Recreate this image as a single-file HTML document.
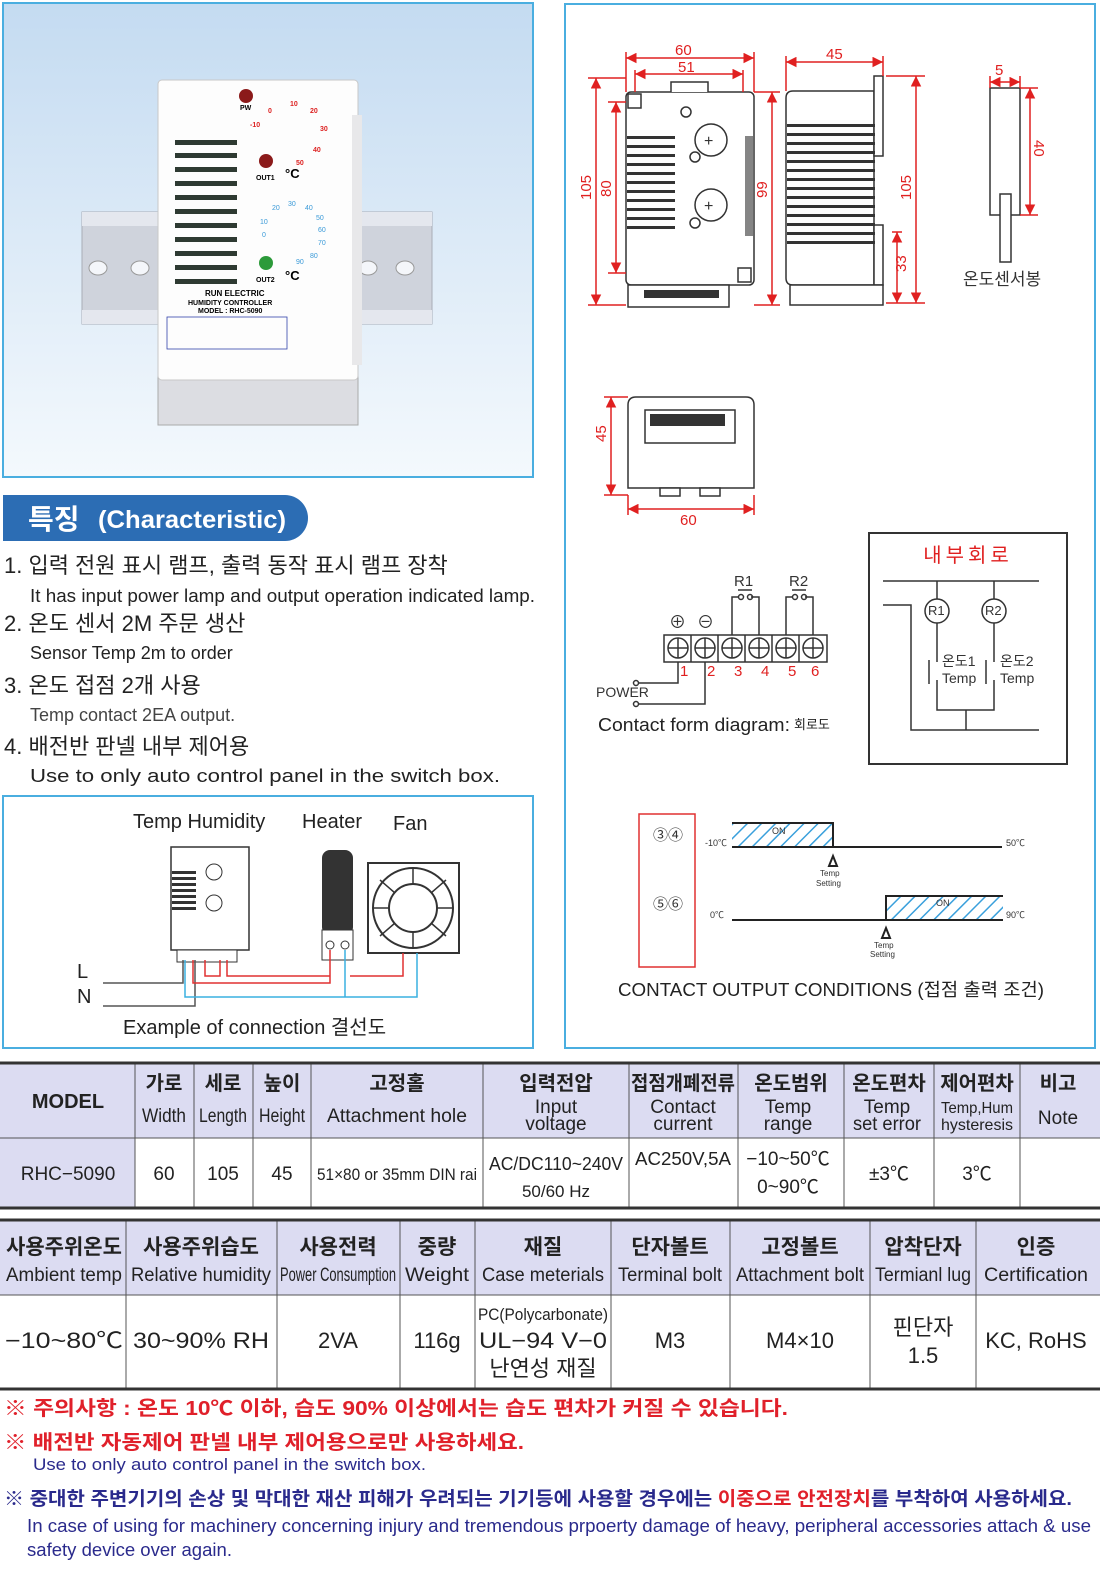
<!DOCTYPE html>
<html><head><meta charset="utf-8"><style>
html,body{margin:0;padding:0;background:#fff}
svg{display:block}
text{font-family:"Liberation Sans","Noto Sans CJK KR",sans-serif}
</style></head><body>
<svg width="1100" height="1571" viewBox="0 0 1100 1571" xmlns="http://www.w3.org/2000/svg">
<defs>
<linearGradient id="bg" x1="0" y1="0" x2="0" y2="1"><stop offset="0" stop-color="#c4dbf1"/><stop offset="1" stop-color="#f4f9fd"/></linearGradient>
<pattern id="hatch" width="10" height="10" patternUnits="userSpaceOnUse" patternTransform="rotate(45)"><rect width="10" height="10" fill="#fff"/><line x1="0" y1="0" x2="0" y2="10" stroke="#3aa0dc" stroke-width="3"/></pattern>
<marker id="a" viewBox="0 0 10 10" refX="10" refY="5" markerWidth="7" markerHeight="7" orient="auto-start-reverse"><path d="M0 0 L10 5 L0 10 Z" fill="#e02020"/></marker>
</defs>

<!-- Product photo -->
<rect x="3" y="3" width="530" height="474" fill="url(#bg)" stroke="#4aaee0" stroke-width="2"/>
<rect x="82" y="212" width="350" height="112" fill="#cfd3dc" stroke="#a8acb6"/>
<rect x="82" y="212" width="350" height="14" fill="#e4e7ee"/>
<rect x="82" y="310" width="350" height="14" fill="#e4e7ee"/>
<ellipse cx="98" cy="268" rx="9" ry="7" fill="#f4f6fa" stroke="#999"/><ellipse cx="140" cy="268" rx="9" ry="7" fill="#f4f6fa" stroke="#999"/>
<ellipse cx="368" cy="268" rx="9" ry="7" fill="#f4f6fa" stroke="#999"/><ellipse cx="405" cy="268" rx="9" ry="7" fill="#f4f6fa" stroke="#999"/>
<rect x="158" y="370" width="200" height="55" fill="#dcdde2" stroke="#aaa"/>
<rect x="158" y="80" width="200" height="300" rx="4" fill="#fdfdfd" stroke="#c8c8c8"/>
<rect x="352" y="115" width="10" height="250" fill="#e8e8ea"/>
<g fill="#2e3a32">
<rect x="175" y="140" width="62" height="5"/><rect x="175" y="153" width="62" height="5"/><rect x="175" y="167" width="62" height="5"/><rect x="175" y="181" width="62" height="5"/><rect x="175" y="195" width="62" height="5"/><rect x="175" y="209" width="62" height="5"/><rect x="175" y="223" width="62" height="5"/><rect x="175" y="237" width="62" height="5"/><rect x="175" y="251" width="62" height="5"/><rect x="175" y="265" width="62" height="5"/><rect x="175" y="279" width="62" height="5"/>
</g>
<circle cx="246" cy="96" r="7" fill="#8b1a1a"/><text x="240" y="110" font-size="7" font-weight="bold">PW</text>
<circle cx="266" cy="161" r="7" fill="#8b1a1a"/><text x="256" y="180" font-size="7" font-weight="bold">OUT1</text>
<circle cx="266" cy="263" r="7" fill="#2c9a3a"/><text x="256" y="282" font-size="7" font-weight="bold">OUT2</text>
<text x="285" y="178" font-size="13" font-weight="bold">°C</text><text x="285" y="280" font-size="13" font-weight="bold">°C</text>
<g font-size="7" fill="#d22" font-weight="bold"><text x="268" y="113">0</text><text x="290" y="106">10</text><text x="310" y="113">20</text><text x="320" y="131">30</text><text x="313" y="152">40</text><text x="296" y="165">50</text><text x="250" y="127">-10</text></g>
<g font-size="7" fill="#3a9ad8"><text x="262" y="237">0</text><text x="260" y="224">10</text><text x="272" y="210">20</text><text x="288" y="206">30</text><text x="305" y="210">40</text><text x="316" y="220">50</text><text x="318" y="232">60</text><text x="318" y="245">70</text><text x="310" y="258">80</text><text x="296" y="264">90</text></g>
<text x="205" y="296" font-size="8" font-weight="bold">RUN ELECTRIC</text>
<text x="188" y="305" font-size="7" font-weight="bold">HUMIDITY CONTROLLER</text>
<text x="198" y="313" font-size="7" font-weight="bold">MODEL : RHC-5090</text>
<rect x="167" y="317" width="120" height="32" fill="none" stroke="#3344aa" stroke-width="0.8"/>

<!-- Characteristic -->
<path d="M3 495 H285 A23 23 0 0 1 285 541 H3 Z" fill="#2c6db4"/>
<text x="28" y="529" font-size="28" font-weight="bold" fill="#fff">특징</text>
<text x="98" y="528" font-size="25" fill="#fff" font-weight="bold" textLength="188" lengthAdjust="spacingAndGlyphs">(Characteristic)</text>
<g font-size="22" fill="#222">
<text x="4" y="573">1. 입력 전원 표시 램프, 출력 동작 표시 램프 장착</text>
<text x="4" y="631">2. 온도 센서 2M 주문 생산</text>
<text x="4" y="693">3. 온도 접점 2개 사용</text>
<text x="4" y="754">4. 배전반 판넬 내부 제어용</text>
</g>
<g font-size="18" fill="#222">
<text x="30" y="602" textLength="505" lengthAdjust="spacingAndGlyphs">It has input power lamp and output operation indicated lamp.</text>
<text x="30" y="659">Sensor Temp 2m to order</text>
<text x="30" y="721" fill="#444">Temp contact 2EA output.</text>
<text x="30" y="782" textLength="470" lengthAdjust="spacingAndGlyphs">Use to only auto control panel in the switch box.</text>
</g>

<!-- Connection -->
<rect x="3" y="796" width="530" height="252" fill="#fff" stroke="#4aaee0" stroke-width="2"/>
<g font-size="20" fill="#222"><text x="133" y="828">Temp Humidity</text><text x="302" y="828">Heater</text><text x="393" y="830">Fan</text>
<text x="123" y="1034">Example of connection 결선도</text><text x="77" y="978">L</text><text x="77" y="1003">N</text></g>
<rect x="171" y="847" width="78" height="103" fill="#fff" stroke="#333" stroke-width="1.5"/>
<g fill="#333"><rect x="172" y="871" width="24" height="3"/><rect x="172" y="877" width="24" height="3"/><rect x="172" y="883" width="24" height="3"/><rect x="172" y="889" width="24" height="3"/><rect x="172" y="895" width="24" height="3"/><rect x="172" y="901" width="24" height="3"/><rect x="172" y="907" width="24" height="3"/></g>
<circle cx="214" cy="872" r="8" fill="none" stroke="#333"/><circle cx="214" cy="903" r="8" fill="none" stroke="#333"/>
<rect x="177" y="950" width="60" height="12" fill="#fff" stroke="#333"/>
<rect x="322" y="850" width="31" height="85" rx="8" fill="#333"/><rect x="322" y="930" width="31" height="30" fill="#fff" stroke="#333"/>
<circle cx="330" cy="945" r="4" fill="none" stroke="#333"/><circle cx="345" cy="945" r="4" fill="none" stroke="#333"/>
<rect x="368" y="863" width="91" height="90" fill="#fff" stroke="#333" stroke-width="2"/>
<circle cx="413" cy="908" r="40" fill="none" stroke="#333" stroke-width="2"/><circle cx="413" cy="908" r="24" fill="none" stroke="#333" stroke-width="2"/>
<g stroke="#333" stroke-width="1.5"><path d="M380 880 L395 893 M446 880 L431 893 M380 936 L395 923 M446 936 L431 923 M413 868 V884 M413 932 V948 M373 908 H389 M437 908 H453"/></g>
<g fill="none" stroke-width="1.5">
<path d="M103 983 H183 V960" stroke="#555"/><path d="M103 1006 H195 V960" stroke="#555"/>
<path d="M185 960 V997 H417 V953" stroke="#3ab0e0"/><path d="M345 950 V997" stroke="#3ab0e0"/>
<path d="M193 960 V983 H330 V950" stroke="#e03030"/><path d="M205 960 V976 H220 V960" stroke="#e03030"/>
<path d="M227 960 V976 H330" stroke="#e03030"/><path d="M350 976 H403 V953" stroke="#e03030"/>
</g>

<!-- Right panel -->
<rect x="565" y="4" width="530" height="1044" fill="#fff" stroke="#4aaee0" stroke-width="2"/>
<g stroke="#333" stroke-width="1.5" fill="#fff">
<rect x="626" y="92" width="128" height="193" rx="5"/>
<path d="M671 92 V82 H708 V92" />
<rect x="628" y="285" width="101" height="22"/>
<path d="M786 98 Q786 91 793 91 H874 V285 H793 Q786 285 786 278 Z"/>
<rect x="874" y="76" width="9" height="80"/><rect x="874" y="225" width="9" height="60"/>
<rect x="790" y="285" width="93" height="20"/>
<rect x="990" y="88" width="30" height="127"/><rect x="1000" y="194" width="11" height="68"/>
<path d="M628 488 V405 Q628 397 636 397 H746 Q754 397 754 405 V488 Z"/>
<rect x="645" y="410" width="90" height="33"/>
<rect x="660" y="488" width="20" height="8"/><rect x="700" y="488" width="20" height="8"/>
</g>
<g fill="#333">
<rect x="627" y="136" width="48" height="3"/><rect x="627" y="145" width="48" height="3"/><rect x="627" y="154" width="48" height="3"/><rect x="627" y="163" width="48" height="3"/><rect x="627" y="172" width="48" height="3"/><rect x="627" y="181" width="48" height="3"/><rect x="627" y="190" width="48" height="3"/><rect x="627" y="199" width="48" height="3"/><rect x="627" y="208" width="48" height="3"/><rect x="627" y="217" width="48" height="3"/><rect x="627" y="226" width="48" height="3"/>
<rect x="787" y="124" width="88" height="3"/><rect x="787" y="133" width="88" height="3"/><rect x="787" y="142" width="88" height="3"/><rect x="787" y="151" width="88" height="3"/><rect x="787" y="160" width="88" height="3"/><rect x="787" y="169" width="88" height="3"/><rect x="787" y="178" width="88" height="3"/><rect x="787" y="187" width="88" height="3"/><rect x="787" y="196" width="88" height="3"/><rect x="787" y="205" width="88" height="3"/><rect x="787" y="214" width="88" height="3"/><rect x="787" y="223" width="88" height="3"/><rect x="787" y="232" width="88" height="3"/><rect x="787" y="241" width="88" height="3"/>
<rect x="745" y="136" width="8" height="100" opacity="0.6"/>
<rect x="644" y="290" width="75" height="8"/><rect x="650" y="414" width="75" height="12"/>
</g>
<g fill="none" stroke="#333" stroke-width="1.5"><circle cx="711" cy="140" r="16"/><circle cx="711" cy="205" r="16"/><circle cx="686" cy="112" r="5"/><circle cx="695" cy="157" r="5"/><circle cx="695" cy="223" r="5"/><rect x="628" y="94" width="13" height="14"/><rect x="738" y="268" width="13" height="14"/></g>
<g font-size="16" fill="#333"><text x="704" y="146">+</text><text x="704" y="211">+</text></g>
<!-- dims -->
<g stroke="#e02020" stroke-width="1.5" fill="none">
<path d="M626 52 V92 M754 52 V92 M635 70 V92 M743 70 V92 M588 78 H626 M588 305 H626 M608 102 H626 M608 273 H626 M754 92 H780 M754 305 H780 M786 56 V91 M883 56 V76 M886 76 H925 M886 303 H925 M892 232 H902 M990 76 V88 M1020 76 V88 M1020 88 H1038 M1020 215 H1038 M604 397 H628 M604 495 H628 M628 495 V515 M754 495 V515"/>
</g>
<g stroke="#e02020" stroke-width="1.5" fill="none" marker-start="url(#a)" marker-end="url(#a)">
<line x1="626" y1="58" x2="754" y2="58"/><line x1="635" y1="74" x2="743" y2="74"/>
<line x1="596" y1="78" x2="596" y2="305"/><line x1="616" y1="102" x2="616" y2="273"/><line x1="772" y1="92" x2="772" y2="305"/>
<line x1="786" y1="62" x2="883" y2="62"/><line x1="916" y1="76" x2="916" y2="303"/><line x1="897" y1="232" x2="897" y2="303"/>
<line x1="990" y1="82" x2="1020" y2="82"/><line x1="1030" y1="88" x2="1030" y2="215"/>
<line x1="611" y1="397" x2="611" y2="495"/><line x1="628" y1="509" x2="754" y2="509"/>
</g>
<g font-size="15" fill="#e02020">
<text x="675" y="55">60</text><text x="678" y="72">51</text><text x="826" y="59">45</text><text x="995" y="75">5</text><text x="680" y="525">60</text>
<text transform="translate(591,200) rotate(-90)">105</text><text transform="translate(611,197) rotate(-90)">80</text>
<text transform="translate(767,198) rotate(-90)">99</text><text transform="translate(911,200) rotate(-90)">105</text>
<text transform="translate(906,272) rotate(-90)">33</text><text transform="translate(1034,140) rotate(90)">40</text>
<text transform="translate(606,442) rotate(-90)">45</text>
</g>
<text x="963" y="285" font-size="17" fill="#333">온도센서봉</text>

<!-- contact form -->
<g stroke="#333" stroke-width="1.5" fill="none">
<rect x="664" y="635" width="163" height="27"/>
<circle cx="678" cy="648" r="10"/><circle cx="705" cy="648" r="10"/><circle cx="732" cy="648" r="10"/><circle cx="759" cy="648" r="10"/><circle cx="786" cy="648" r="10"/><circle cx="813" cy="648" r="10"/>
<path d="M668 648 H688 M678 638 V658 M695 648 H715 M705 638 V658 M722 648 H742 M732 638 V658 M749 648 H769 M759 638 V658 M776 648 H796 M786 638 V658 M803 648 H823 M813 638 V658 M691 635 V662 M718 635 V662 M745 635 V662 M772 635 V662 M799 635 V662"/>
<path d="M732 635 V597 H739 M751 597 H759 V635 M786 635 V597 H793 M805 597 H813 V635 M738 590 H752 M792 590 H806"/>
<path d="M678 662 V683 H638 M705 662 V704 H638"/>
<circle cx="741" cy="597" r="2.5"/><circle cx="750" cy="597" r="2.5"/><circle cx="795" cy="597" r="2.5"/><circle cx="804" cy="597" r="2.5"/>
<circle cx="636" cy="683" r="2.5"/><circle cx="636" cy="704" r="2.5"/>
</g>
<g font-size="15" fill="#333"><text x="734" y="586">R1</text><text x="789" y="586">R2</text><text x="669" y="628" font-size="17">⊕</text><text x="697" y="628" font-size="17">⊖</text><text x="596" y="697" font-size="14">POWER</text></g>
<g font-size="15" fill="#e02020"><text x="680" y="676">1</text><text x="707" y="676">2</text><text x="734" y="676">3</text><text x="761" y="676">4</text><text x="788" y="676">5</text><text x="811" y="676">6</text></g>
<text x="598" y="731" font-size="18" fill="#222" textLength="192" lengthAdjust="spacingAndGlyphs">Contact form diagram:</text><text x="794" y="729" font-size="13" fill="#222">회로도</text>
<!-- internal circuit -->
<rect x="869" y="533" width="198" height="231" fill="none" stroke="#333" stroke-width="2"/>
<text x="968" y="562" font-size="20" fill="#e02020" text-anchor="middle" letter-spacing="4">내부회로</text>
<g stroke="#333" stroke-width="1.5" fill="none">
<path d="M883 581 H1039 M937 581 V599 M994 581 V599 M937 623 V662 M994 623 V662 M937 680 V710 H994 V680 M966 710 V730 M883 605 H911 V730 H1039"/>
<circle cx="937" cy="611" r="12"/><circle cx="994" cy="611" r="12"/>
<path d="M929 660 V684 M986 660 V684"/>
</g>
<g font-size="13" fill="#333"><text x="928" y="615">R1</text><text x="985" y="615">R2</text></g>
<g font-size="14" fill="#333"><text x="942" y="666">온도1</text><text x="942" y="683">Temp</text><text x="1000" y="666">온도2</text><text x="1000" y="683">Temp</text></g>
<!-- output conditions -->
<rect x="639" y="814" width="56" height="153" fill="none" stroke="#e03030" stroke-width="1.5"/>
<g font-size="15" fill="#333"><text x="653" y="840">③④</text><text x="653" y="909">⑤⑥</text></g>
<rect x="732" y="823" width="101" height="24" fill="url(#hatch)"/>
<rect x="886" y="896" width="117" height="24" fill="url(#hatch)"/>
<g stroke="#222" stroke-width="2" fill="none"><path d="M732 823 H833 V847 M732 847 H1002 M886 920 V896 H1003 M732 920 H1003"/>
<path d="M833 856 L829 866 H837 Z M886 928 L882 938 H890 Z"/></g>
<g font-size="9" fill="#333"><text x="772" y="834">ON</text><text x="936" y="906">ON</text><text x="705" y="846">-10℃</text><text x="1006" y="846">50℃</text><text x="710" y="918">0℃</text><text x="1006" y="918">90℃</text>
<text x="820" y="876" font-size="8">Temp</text><text x="816" y="886" font-size="8">Setting</text><text x="874" y="948" font-size="8">Temp</text><text x="870" y="957" font-size="8">Setting</text></g>
<text x="831" y="996" font-size="18" fill="#222" text-anchor="middle" textLength="426" lengthAdjust="spacingAndGlyphs">CONTACT OUTPUT CONDITIONS (접점 출력 조건)</text>

<!-- Table 1 -->
<rect x="0" y="1064" width="1100" height="74" fill="#dcdcf2"/>
<rect x="0" y="1138" width="135" height="70" fill="#dcdcf2"/>
<g stroke="#555" stroke-width="1"><path d="M0 1138 H1100 M135 1064 V1208 M194 1064 V1208 M253 1064 V1208 M311 1064 V1208 M483 1064 V1208 M629 1064 V1208 M738 1064 V1208 M844 1064 V1208 M934 1064 V1208 M1020 1064 V1208"/></g>
<path d="M0 1063 H1100 M0 1208 H1100" stroke="#333" stroke-width="3"/>
<g font-size="20" fill="#222" text-anchor="middle" font-weight="bold">
<text x="68" y="1108">MODEL</text><text x="164" y="1090">가로</text><text x="223" y="1090">세로</text><text x="282" y="1090">높이</text><text x="397" y="1090">고정홀</text><text x="556" y="1090">입력전압</text><text x="683" y="1090" textLength="104" lengthAdjust="spacingAndGlyphs">접점개폐전류</text><text x="791" y="1090">온도범위</text><text x="889" y="1090">온도편차</text><text x="977" y="1090">제어편차</text><text x="1058" y="1090">비고</text>
</g>
<g font-size="19" fill="#222" text-anchor="middle">
<text x="164" y="1122" textLength="44" lengthAdjust="spacingAndGlyphs">Width</text><text x="223" y="1122" textLength="48" lengthAdjust="spacingAndGlyphs">Length</text><text x="282" y="1122" textLength="46" lengthAdjust="spacingAndGlyphs">Height</text><text x="397" y="1122" textLength="140" lengthAdjust="spacingAndGlyphs">Attachment hole</text><text x="556" y="1113">Input</text><text x="556" y="1130">voltage</text><text x="683" y="1113">Contact</text><text x="683" y="1130">current</text><text x="788" y="1113">Temp</text><text x="788" y="1130">range</text><text x="887" y="1113">Temp</text><text x="887" y="1130" textLength="68" lengthAdjust="spacingAndGlyphs">set error</text><text x="977" y="1113" font-size="16" textLength="72" lengthAdjust="spacingAndGlyphs">Temp,Hum</text><text x="977" y="1130" font-size="16" textLength="72" lengthAdjust="spacingAndGlyphs">hysteresis</text><text x="1058" y="1124">Note</text>
<text x="68" y="1180">RHC−5090</text><text x="164" y="1180">60</text><text x="223" y="1180">105</text><text x="282" y="1180">45</text><text x="397" y="1180" font-size="17" textLength="160" lengthAdjust="spacingAndGlyphs">51×80 or 35mm DIN rai</text><text x="556" y="1170" font-size="18" textLength="134" lengthAdjust="spacingAndGlyphs">AC/DC110~240V</text><text x="556" y="1197" font-size="17">50/60 Hz</text><text x="683" y="1165" font-size="18" textLength="96" lengthAdjust="spacingAndGlyphs">AC250V,5A</text><text x="788" y="1165">−10~50℃</text><text x="788" y="1193">0~90℃</text><text x="889" y="1180">±3℃</text><text x="977" y="1180">3℃</text>
</g>

<!-- Table 2 -->
<rect x="0" y="1221" width="1100" height="74" fill="#dcdcf2"/>
<g stroke="#555" stroke-width="1"><path d="M0 1295 H1100 M126 1221 V1388 M277 1221 V1388 M400 1221 V1388 M475 1221 V1388 M611 1221 V1388 M730 1221 V1388 M870 1221 V1388 M976 1221 V1388"/></g>
<path d="M0 1220 H1100 M0 1389 H1100" stroke="#333" stroke-width="3"/>
<g font-size="21" fill="#222" text-anchor="middle" font-weight="bold">
<text x="64" y="1254">사용주위온도</text><text x="201" y="1254">사용주위습도</text><text x="338" y="1254">사용전력</text><text x="437" y="1254">중량</text><text x="543" y="1254">재질</text><text x="670" y="1254">단자볼트</text><text x="800" y="1254">고정볼트</text><text x="923" y="1254">압착단자</text><text x="1036" y="1254">인증</text>
</g>
<g font-size="19" fill="#222" text-anchor="middle">
<text x="64" y="1281" textLength="116" lengthAdjust="spacingAndGlyphs">Ambient temp</text><text x="201" y="1281" textLength="140" lengthAdjust="spacingAndGlyphs">Relative humidity</text><text x="338" y="1281" textLength="116" lengthAdjust="spacingAndGlyphs">Power Consumption</text><text x="437" y="1281" textLength="64" lengthAdjust="spacingAndGlyphs">Weight</text><text x="543" y="1281" textLength="122" lengthAdjust="spacingAndGlyphs">Case meterials</text><text x="670" y="1281" textLength="104" lengthAdjust="spacingAndGlyphs">Terminal bolt</text><text x="800" y="1281" textLength="128" lengthAdjust="spacingAndGlyphs">Attachment bolt</text><text x="923" y="1281" textLength="96" lengthAdjust="spacingAndGlyphs">Termianl lug</text><text x="1036" y="1281" textLength="104" lengthAdjust="spacingAndGlyphs">Certification</text>
<text x="64" y="1348" font-size="22" textLength="118" lengthAdjust="spacingAndGlyphs">−10~80℃</text><text x="201" y="1348" font-size="22" textLength="136" lengthAdjust="spacingAndGlyphs">30~90% RH</text><text x="338" y="1348" font-size="22">2VA</text><text x="437" y="1348" font-size="22">116g</text><text x="543" y="1320" font-size="17" textLength="130" lengthAdjust="spacingAndGlyphs">PC(Polycarbonate)</text><text x="543" y="1348" font-size="22" textLength="128" lengthAdjust="spacingAndGlyphs">UL−94 V−0</text><text x="543" y="1376" font-size="22">난연성 재질</text><text x="670" y="1348" font-size="22">M3</text><text x="800" y="1348" font-size="22">M4×10</text><text x="923" y="1335" font-size="22">핀단자</text><text x="923" y="1363" font-size="22">1.5</text><text x="1036" y="1348" font-size="22">KC, RoHS</text>
</g>

<!-- Notes -->
<g font-weight="bold" fill="#e0202a" font-size="20">
<text x="4" y="1415" textLength="784" lengthAdjust="spacingAndGlyphs">※ 주의사항 : 온도 10℃ 이하, 습도 90% 이상에서는 습도 편차가 커질 수 있습니다.</text>
<text x="4" y="1449" textLength="520" lengthAdjust="spacingAndGlyphs">※ 배전반 자동제어 판넬 내부 제어용으로만 사용하세요.</text>
</g>
<text x="33" y="1470" font-size="17" fill="#2a2a8c" textLength="393" lengthAdjust="spacingAndGlyphs">Use to only auto control panel in the switch box.</text>
<text x="4" y="1505" font-size="19" font-weight="bold" fill="#2a2a8c" textLength="1068" lengthAdjust="spacingAndGlyphs">※ 중대한 주변기기의 손상 및 막대한 재산 피해가 우려되는 기기등에 사용할 경우에는 <tspan fill="#e0202a">이중으로 안전장치</tspan>를 부착하여 사용하세요.</text>
<text x="27" y="1532" font-size="18" fill="#2a2a8c" textLength="1064" lengthAdjust="spacingAndGlyphs">In case of using for machinery concerning injury and tremendous prpoerty damage of heavy, peripheral accessories attach &amp; use</text>
<text x="27" y="1556" font-size="18" fill="#2a2a8c" textLength="205" lengthAdjust="spacingAndGlyphs">safety device over again.</text>
</svg>
</body></html>
